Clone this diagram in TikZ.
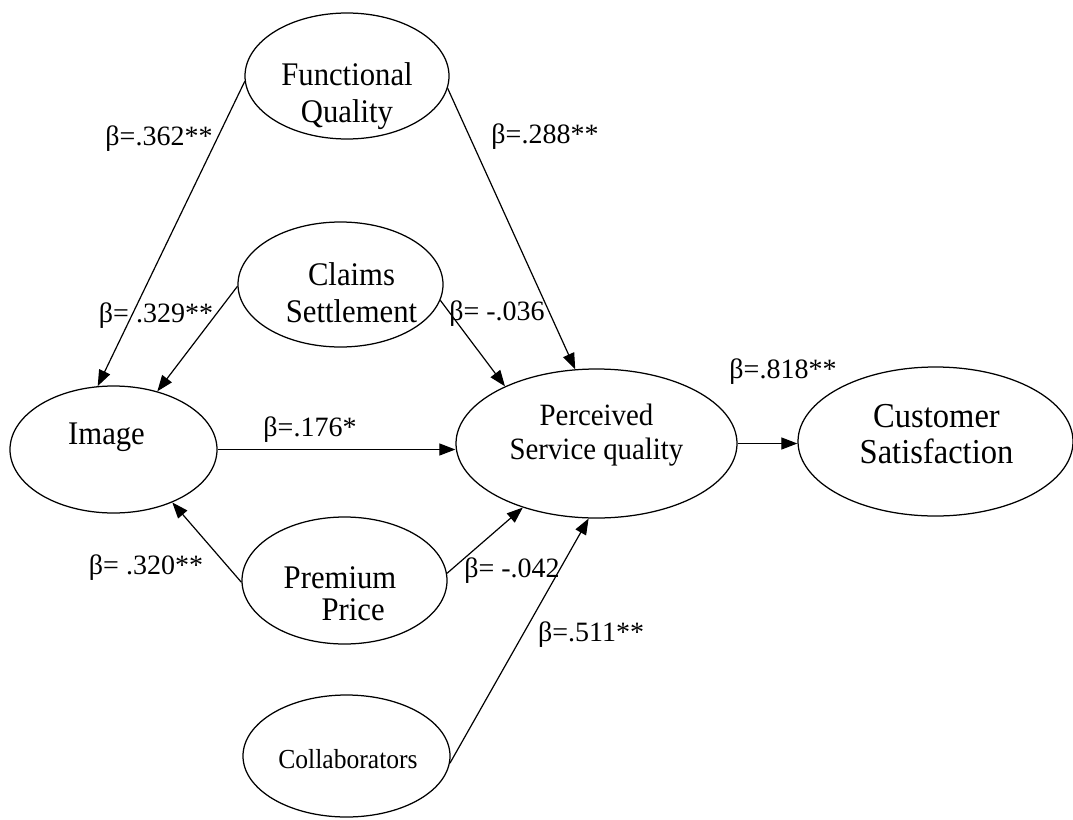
\documentclass[tikz,border=0pt]{standalone}
\usepackage{fontspec}
\setmainfont{Liberation Serif}
\newfontfamily\ellfont{Liberation Serif}[FakeStretch=0.93]
\usetikzlibrary{shapes.geometric,arrows.meta}
\begin{document}
\begin{tikzpicture}[x=1pt,y=-1pt,
  construct/.style={draw,ellipse,inner sep=0pt,line width=1.25pt},
  ctext/.style={align=center,inner sep=0pt,font=\ellfont\fontsize{33}{37}\selectfont},
  link/.style={line width=1.2pt,-{Triangle[length=16pt,width=12pt]}},
  coef/.style={inner sep=0pt,font=\fontsize{28}{32}\selectfont}]

\fill[white] (0,0) rectangle (1073,819);
\useasboundingbox (0,0) rectangle (1073,819);

% constructs
\node[construct,minimum width=204pt,minimum height=126pt] (fq)  at (347,76)      {};
\node[construct,minimum width=205pt,minimum height=125pt] (cs)  at (340.5,284.5) {};
\node[construct,minimum width=207pt,minimum height=127pt] (img) at (113.5,449.5) {};
\node[construct,minimum width=281pt,minimum height=149pt] (psq) at (596.5,443.5) {};
\node[construct,minimum width=275pt,minimum height=149pt] (cst) at (935.5,441.5) {};
\node[construct,minimum width=205pt,minimum height=127pt] (pp)  at (344.5,580.5) {};
\node[construct,minimum width=207pt,minimum height=122pt] (col) at (346.5,756)   {};

% construct names
\node[ctext] (fq-t)  at ([yshift=-21pt]fq.center) {\strut Functional\\Quality\strut};
\node[ctext] (cs-t)  at ([xshift=11pt,yshift=-12pt]cs.center) {\strut Claims\\Settlement\strut};
\node[ctext] (img-t) at ([xshift=-7pt,yshift=12pt]img.center) {\strut Image};
\node[ctext,font=\ellfont\fontsize{31}{34}\selectfont] (psq-t) at ([yshift=7.5pt]psq.center) {\strut Perceived\\Service quality\strut};
\node[ctext,font=\ellfont\fontsize{35}{36}\selectfont] (cst-t) at ([xshift=1pt,yshift=3.7pt]cst.center) {\strut Customer\\Satisfaction\strut};
\node[ctext,font=\ellfont\fontsize{33}{30}\selectfont] (pp-t) at ([xshift=-4.5pt,yshift=-17.5pt]pp.center) {\strut Premium\\\hspace*{0.8em}Price\strut};
\node[ctext,font=\ellfont\fontsize{27.5}{33}\selectfont] (col-t) at ([xshift=1.5pt,yshift=-6pt]col.center) {\strut Collaborators};

% paths
\draw[link] (fq.183) -- (img.104);
\draw[link] (fq.353) -- (psq.106);
\draw[link] (cs.181) -- (img.53);
\draw[link] (cs.351) -- (psq.148);
\draw[link] (img.east) -- (img.east -| psq.west);
\draw[link] (psq.east) -- (psq.east -| cst.west);
\draw[link] (pp.181) -- (img.318);
\draw[link] (pp.4) -- (psq.221);
\draw[link] (col.356) -- (psq.264);

% path coefficients
\node[coef] (b362) at (159,139) {β=.362**};
\node[coef] (b288) at (545,137) {β=.288**};
\node[coef] (b329) at (156,316) {β= .329**};
\node[coef] (b036) at (497,314) {β= -.036};
\node[coef] (b818) at (783,372) {β=.818**};
\node[coef] (b176) at (310,430) {β=.176*};
\node[coef] (b320) at (146,568) {β= .320**};
\node[coef] (b042) at (512,571) {β= -.042};
\node[coef] (b511) at (591,635) {β=.511**};
\end{tikzpicture}
\end{document}
